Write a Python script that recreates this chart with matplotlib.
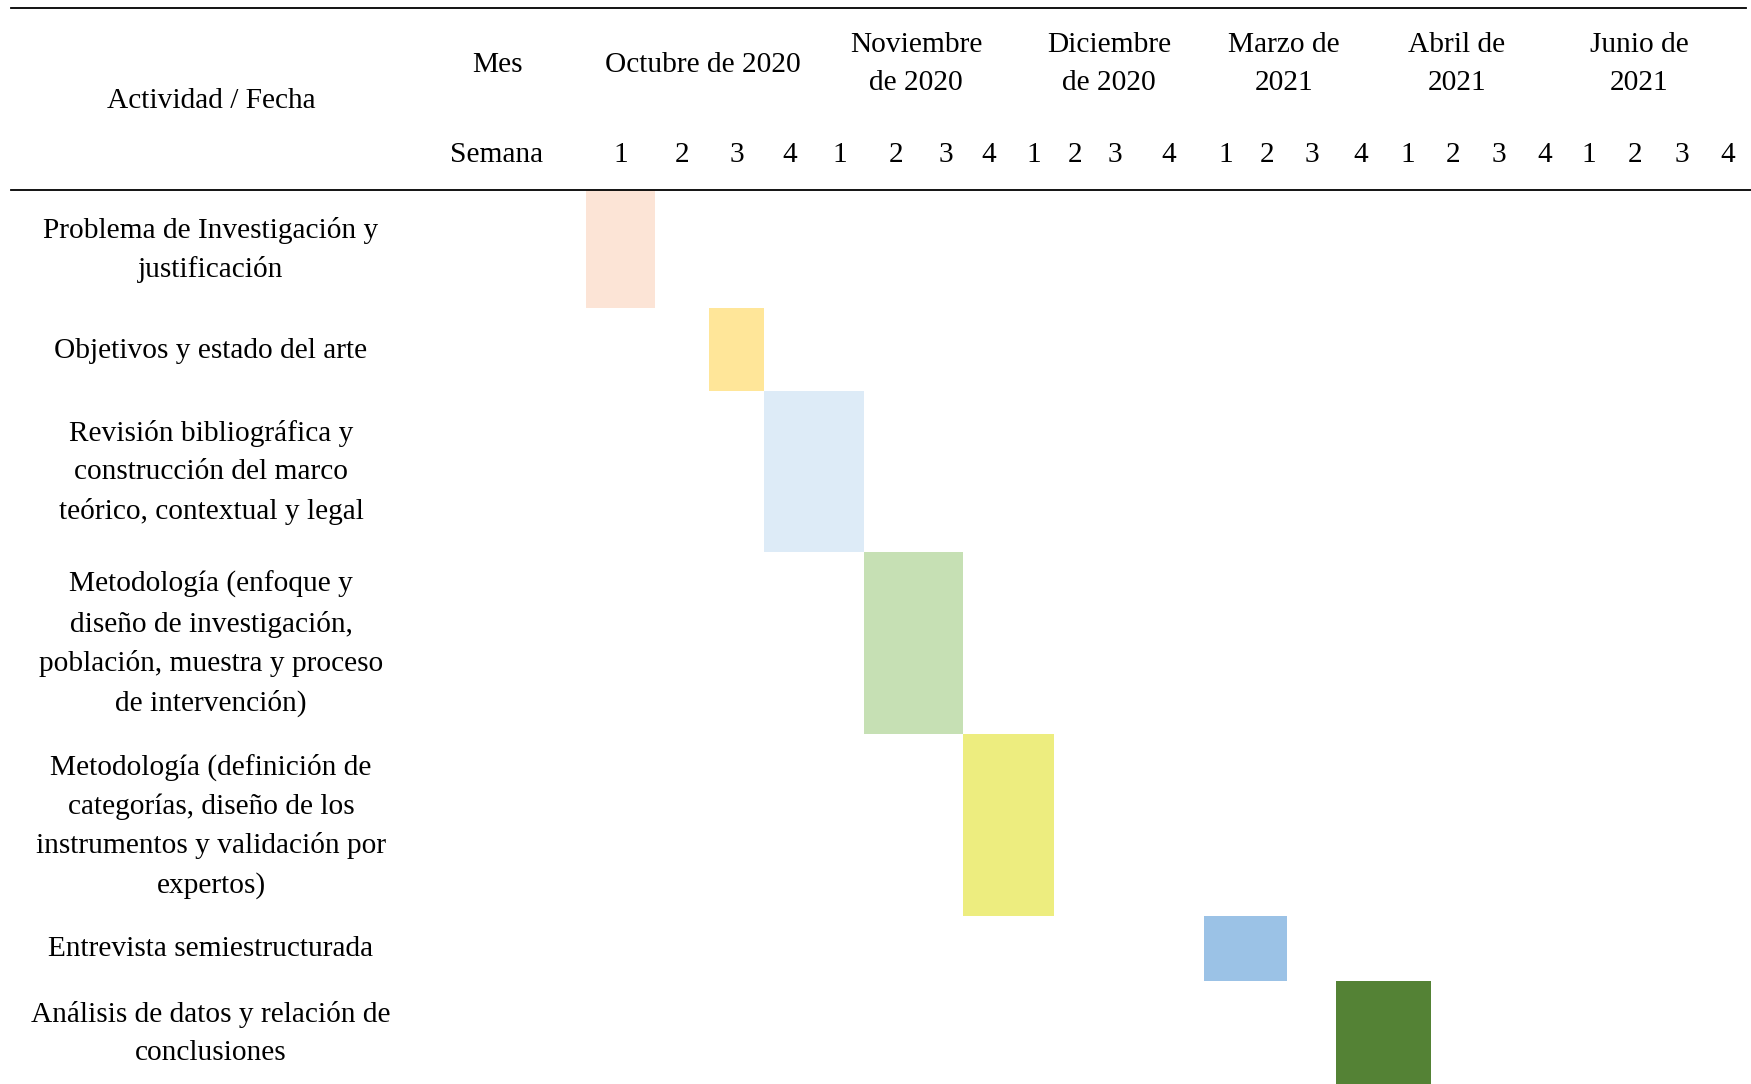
import matplotlib.pyplot as plt

plt.rcParams['font.family'] = ['Liberation Serif', 'DejaVu Serif']

# data
actividades = [
    'Problema de Investigación y\njustificación',
    'Objetivos y estado del arte',
    'Revisión bibliográfica y\nconstrucción del marco\nteórico, contextual y legal',
    'Metodología (enfoque y\ndiseño de investigación,\npoblación, muestra y proceso\nde intervención)',
    'Metodología (definición de\ncategorías, diseño de los\ninstrumentos y validación por\nexpertos)',
    'Entrevista semiestructurada',
    'Análisis de datos y relación de\nconclusiones',
]
# first and last week (index over the 24 week columns, inclusive)
semana_inicio = [0, 2, 3, 5, 7, 12, 15]
semana_fin = [0, 2, 4, 6, 8, 13, 16]
colores = ['#FCE4D6', '#FFE699', '#DDEBF7', '#C6E0B4', '#EDED7F', '#9BC2E6', '#548235']

meses = ['Octubre de 2020', 'Noviembre\nde 2020', 'Diciembre\nde 2020',
         'Marzo de\n2021', 'Abril de\n2021', 'Junio de\n2021']
semanas = ['1', '2', '3', '4'] * 6

# layout (pixels of the table)
col_edges = [586, 655, 709, 764, 816, 864, 928, 963, 1014, 1054, 1096, 1133,
             1204, 1247, 1287, 1336, 1385, 1431, 1475, 1522, 1567, 1611, 1660, 1704, 1751]
row_edges = [190, 308, 391, 552, 734, 916, 981, 1084]
mes_x = [703, 916, 1109, 1284, 1457, 1639]
W, H = 1751, 1084
fs = 21.2

fig = plt.figure(figsize=(W / 100, H / 100), dpi=100)
ax = fig.add_axes([0, 0, 1, 1])
ax.set_xlim(0, W)
ax.set_ylim(H, 0)
ax.axis('off')

# bars
for i in range(len(actividades)):
    left = col_edges[semana_inicio[i]]
    right = col_edges[semana_fin[i] + 1]
    top, bottom = row_edges[i], row_edges[i + 1]
    ax.barh((top + bottom) / 2, right - left, left=left, height=bottom - top,
            color=colores[i], linewidth=0, zorder=1)
    ax.text(211, (top + bottom) / 2 + 1, actividades[i], ha='center', va='center',
            fontsize=fs, linespacing=1.6, zorder=3)

# header
ax.plot([11, 1746], [8, 8], color='black', lw=1.3, zorder=4)
ax.plot([11, W], [190, 190], color='black', lw=1.3, zorder=4)
ax.text(211, 101.5, 'Actividad / Fecha', ha='center', va='center', fontsize=fs)
ax.text(497, 64.5, 'Mes', ha='center', va='center', fontsize=fs)
ax.text(497, 155, 'Semana', ha='center', va='center', fontsize=fs)
for x, m in zip(mes_x, meses):
    ax.text(x, 64.5, m, ha='center', va='center', fontsize=fs, linespacing=1.6)
for j, s in enumerate(semanas):
    ax.text((col_edges[j] + col_edges[j + 1]) / 2, 155, s, ha='center', va='center', fontsize=fs)

fig.savefig('out.png', dpi=100)
